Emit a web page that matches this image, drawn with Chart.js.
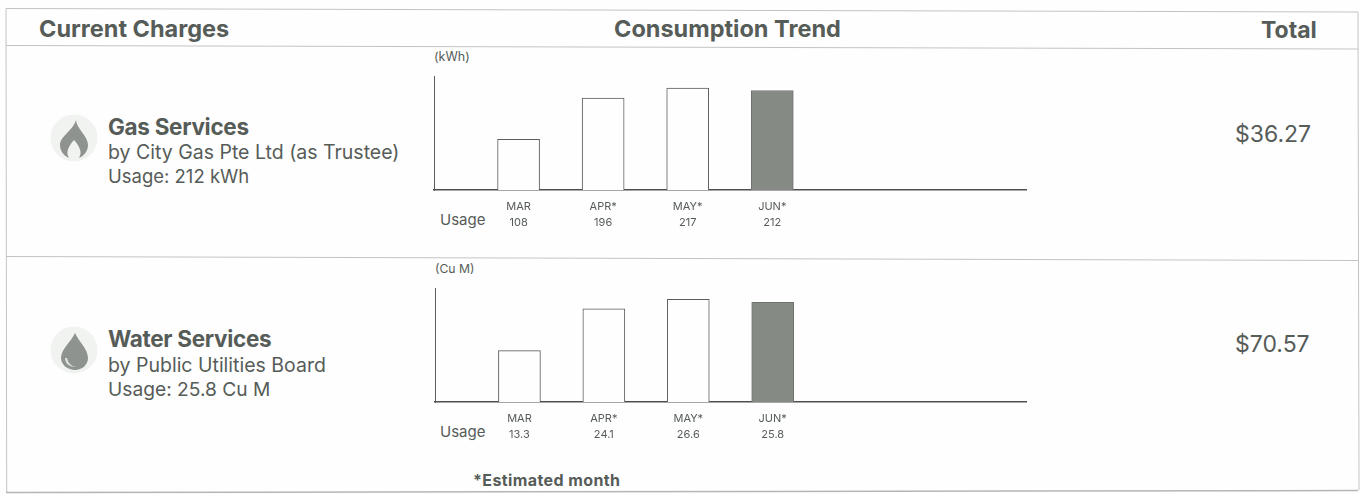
<!DOCTYPE html>
<html><head><meta charset="utf-8">
<script src="https://cdn.jsdelivr.net/npm/chart.js@4"></script>
<style>
html,body{margin:0;padding:0;background:#fefefe;width:1361px;height:494px;overflow:hidden}
body{position:relative;font-family:"Inter",sans-serif;color:#565c58}
.t{position:absolute;white-space:nowrap;line-height:1}
.b{font-weight:700}
canvas{position:absolute}
svg{position:absolute}
</style></head><body>
<svg style="left:0;top:0" width="1361" height="494">
<g stroke="#c2c4c2" stroke-width="1" fill="none">
<line x1="6" y1="8.5" x2="1358" y2="12"/>
<line x1="6" y1="45.5" x2="1358" y2="49"/>
<line x1="6" y1="256.5" x2="1358" y2="260.5"/>
<line x1="6" y1="8.5" x2="6.7" y2="492"/>
<line x1="1358" y1="12" x2="1359" y2="490"/>
</g>
<line x1="6" y1="492.5" x2="1358" y2="490.5" stroke="#b4b6b4" stroke-width="1.5"/>
</svg>

<div class="t b" style="left:39px;top:17px;font-size:23.5px">Current Charges</div>
<div class="t b" style="left:614px;top:17px;font-size:23.5px">Consumption Trend</div>
<div class="t b" style="left:1261px;top:19px;font-size:23px">Total</div>

<svg style="left:50px;top:114px" width="48" height="48" viewBox="0 0 48 48"><circle cx="24" cy="24" r="23.5" fill="#f1f3f1"/><path d="M26 6C26 14 38 22 38 31C38 37 34 42 29 44C32 39 31 34 24 26C17 34 16 39 19 44C14 42 10 37 10 31C10 22 23 17 26 6Z" fill="#8e938f"/></svg>
<div class="t b" style="left:108px;top:116px;font-size:22.5px;letter-spacing:-.3px">Gas Services</div>
<div class="t" style="left:108px;top:143px;font-size:19.5px">by City Gas Pte Ltd (as Trustee)</div>
<div class="t" style="left:108px;top:167px;font-size:18.5px">Usage: 212 kWh</div>
<div class="t" style="left:1235px;top:123px;font-size:23px">$36.27</div>

<svg style="left:50px;top:326px" width="48" height="48" viewBox="0 0 48 48"><circle cx="24" cy="24" r="23.5" fill="#f1f3f1"/><path d="M25 7C29 16 38 23 38 32C38 39 32 44 25 44C18 44 11 39 11 32C11 23 21 16 25 7Z" fill="#8e938f"/><path d="M15 32C15 38 20 41 26 41C21 40 18 37 17 32Z" fill="#dfe2df"/></svg>
<div class="t b" style="left:108px;top:328px;font-size:22.5px;letter-spacing:-.3px">Water Services</div>
<div class="t" style="left:108px;top:356px;font-size:19.5px">by Public Utilities Board</div>
<div class="t" style="left:108px;top:380px;font-size:19.2px">Usage: 25.8 Cu M</div>
<div class="t" style="left:1235px;top:333px;font-size:23px">$70.57</div>

<div class="t" style="left:434px;top:51px;font-size:12.5px">(kWh)</div>
<div class="t" style="left:435px;top:263px;font-size:12.2px">(Cu M)</div>
<div class="t" style="left:440px;top:212px;font-size:15px">Usage</div>
<div class="t" style="left:440px;top:424px;font-size:15px">Usage</div>
<div class="t b" style="left:473px;top:472px;font-size:16px;letter-spacing:.4px">*Estimated month</div>

<canvas id="gas" style="left:424px;top:66px"></canvas>
<canvas id="water" style="left:425px;top:278px"></canvas>
<script>
const months = ["", "MAR", "APR*", "MAY*", "JUN*", "", "", ""];
const gasUsage = [null, 108, 196, 217, 212, null, null, null];
const gasLabels = ["", "108", "196", "217", "212", "", "", ""];
const waterUsage = [null, 13.3, 24.1, 26.6, 25.8, null, null, null];
const waterLabels = ["", "13.3", "24.1", "26.6", "25.8", "", "", ""];
const gasMax = 243;
const waterMax = 29.5;
const barFill = ["#fefefe", "#fefefe", "#fefefe", "#fefefe", "#858a84", "#fefefe", "#fefefe", "#fefefe"];
const barEdge = ["#5a5d5a", "#5a5d5a", "#5a5d5a", "#5a5d5a", "#6f736e", "#5a5d5a", "#5a5d5a", "#5a5d5a"];

function makeChart(id, values, usageLabels, yMax, width, height) {
  const el = document.getElementById(id);
  el.width = width; el.height = height;
  el.style.width = width + "px"; el.style.height = height + "px";
  return new Chart(el, {
    type: "bar",
    data: {
      labels: months.map((m, i) => m ? [m, usageLabels[i]] : ""),
      datasets: [{ data: values, backgroundColor: barFill, borderColor: barEdge, borderWidth: 1, barThickness: 42 }]
    },
    options: {
      responsive: false, animation: false, devicePixelRatio: 1,
      layout: { padding: { left: 10, right: 10, top: 10, bottom: 0 } },
      plugins: { legend: { display: false }, tooltip: { enabled: false } },
      scales: {
        x: {
          offset: false,
          afterFit: s => { s.height = 44; },
          grid: { display: false, drawTicks: false },
          border: { display: true, color: "#4c4f4c", width: 1.4 },
          ticks: { autoSkip: false, maxRotation: 0, padding: 8, color: "#565c58",
                    font: { family: "Inter", size: 11, lineHeight: 1.5 } }
        },
        y: {
          min: 0, max: yMax,
          afterFit: s => { s.width = 0; },
          grid: { display: false, drawTicks: false },
          border: { display: true, color: "#5a5d5a", width: 1 },
          ticks: { display: false }
        }
      }
    }
  });
}
makeChart("gas", gasUsage, gasLabels, gasMax, 612, 168);
makeChart("water", waterUsage, waterLabels, waterMax, 611, 168);
</script>
</body></html>
